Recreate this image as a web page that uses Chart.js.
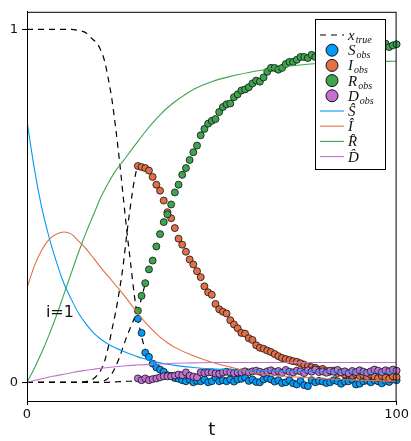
<!DOCTYPE html>
<html>
<head>
<meta charset="utf-8">
<script src="https://cdn.jsdelivr.net/npm/chart.js@4"></script>
<style>
body { margin: 0; background: #fff; }
</style>
</head>
<body>
<canvas id="myChart" width="411" height="441"></canvas>
<script>
// truth before observations start (dashed black)
const tTrue = [0, 4, 8, 12, 14, 16, 17, 18, 19, 20, 21, 22, 23, 24, 25, 26, 27, 28, 29, 30, 31, 32];
const sTrue = [1, 1, 1, 1, 0.997, 0.99, 0.98, 0.97, 0.96, 0.94, 0.91, 0.86, 0.8, 0.72, 0.63, 0.53, 0.43, 0.34, 0.25, 0.18, 0.13, 0.09];
const iTrue = [0, 0, 0, 0, 0, 0.002, 0.005, 0.01, 0.02, 0.035, 0.06, 0.1, 0.15, 0.2, 0.26, 0.33, 0.42, 0.5, 0.57, 0.61, 0.612, 0.608];
const rTrue = [0, 0, 0, 0, 0, 0, 0, 0, 0, 0.002, 0.005, 0.012, 0.025, 0.045, 0.07, 0.1, 0.13, 0.155, 0.18, 0.2, 0.24, 0.28];
const dTrue = [0, 0, 0, 0, 0, 0, 0, 0, 0, 0, 0, 0, 0.001, 0.001, 0.002, 0.002, 0.003, 0.003, 0.004, 0.005, 0.006, 0.008];

// observations t = 30..100
const tObs = [30,31,32,33,34,35,36,37,38,39,40,41,42,43,44,45,46,47,48,49,50,51,52,53,54,55,56,57,58,59,60,61,62,63,64,65,66,67,68,69,70,71,72,73,74,75,76,77,78,79,80,81,82,83,84,85,86,87,88,89,90,91,92,93,94,95,96,97,98,99,100];
const sObs = [0.18,0.14,0.084,0.072,0.053,0.042,0.036,0.03,0.02,0.018,0.012,0.01,0.006,0.003,0.008,0,0.004,0.003,0.008,0,0.003,0.014,0.003,0.006,0.003,0.008,0.002,0.008,0.01,0.014,0.004,0.008,0.001,0,0.008,0.012,0.008,0.002,0.006,-0.002,0,0.006,-0.003,-0.006,0.004,-0.008,-0.011,0.006,0,0.004,0.002,-0.002,0,0.006,0.003,-0.004,0.002,0.003,0.008,-0.006,-0.004,0.003,0.005,0,0.006,0.003,-0.003,0.004,0.001,0.008,0.006];
const iObs = [0.613,0.61,0.607,0.6,0.582,0.56,0.543,0.515,0.482,0.465,0.437,0.407,0.39,0.37,0.348,0.334,0.315,0.298,0.272,0.255,0.248,0.222,0.207,0.2,0.195,0.176,0.164,0.153,0.14,0.138,0.125,0.12,0.105,0.098,0.095,0.09,0.086,0.08,0.074,0.069,0.066,0.063,0.06,0.058,0.054,0.05,0.046,0.043,0.041,0.036,0.038,0.032,0.03,0.033,0.026,0.028,0.022,0.025,0.019,0.023,0.018,0.02,0.015,0.022,0.016,0.012,0.018,0.014,0.01,0.017,0.015];
const rObs = [0.203,0.245,0.281,0.32,0.345,0.385,0.42,0.454,0.476,0.504,0.538,0.56,0.588,0.607,0.63,0.652,0.671,0.7,0.718,0.733,0.741,0.746,0.766,0.78,0.788,0.79,0.808,0.816,0.827,0.83,0.836,0.847,0.855,0.852,0.864,0.88,0.891,0.891,0.886,0.891,0.902,0.908,0.908,0.914,0.922,0.922,0.919,0.928,0.922,0.925,0.93,0.933,0.928,0.936,0.94,0.935,0.942,0.945,0.94,0.947,0.95,0.944,0.952,0.955,0.948,0.957,0.965,0.96,0.95,0.955,0.958];
const dObs = [0.011,0.006,0.011,0.006,0.009,0.011,0.014,0.017,0.017,0.017,0.019,0.022,0.02,0.028,0.019,0.016,0.014,0.028,0.026,0.028,0.028,0.025,0.024,0.028,0.03,0.028,0.026,0.028,0.028,0.031,0.028,0.031,0.033,0.03,0.026,0.031,0.034,0.029,0.032,0.027,0.035,0.03,0.028,0.033,0.031,0.026,0.034,0.03,0.036,0.029,0.031,0.027,0.033,0.03,0.035,0.028,0.031,0.026,0.032,0.029,0.034,0.03,0.027,0.031,0.036,0.033,0.029,0.034,0.031,0.036,0.033];

// fitted curves (solid)
const tFit = [0,2,4,6,8,10,12,14,16,18,20,22,24,26,28,30,32,34,36,38,40,45,50,55,60,65,70,80,90,100];
const sHat = [0.74,0.605,0.495,0.41,0.34,0.28,0.235,0.195,0.165,0.14,0.122,0.108,0.097,0.088,0.08,0.072,0.066,0.06,0.055,0.051,0.048,0.042,0.038,0.035,0.033,0.032,0.031,0.03,0.029,0.028];
const iHat = [0.267,0.33,0.375,0.405,0.42,0.426,0.42,0.4,0.378,0.352,0.325,0.3,0.275,0.25,0.223,0.195,0.17,0.148,0.128,0.112,0.099,0.075,0.057,0.043,0.03,0.022,0.017,0.01,0.006,0.003];
const rHat = [0,0.04,0.085,0.135,0.19,0.25,0.31,0.37,0.425,0.475,0.525,0.565,0.6,0.627,0.655,0.683,0.71,0.735,0.758,0.778,0.795,0.83,0.852,0.867,0.878,0.887,0.895,0.905,0.908,0.91];
const dHat = [0,0.005,0.01,0.015,0.019,0.023,0.027,0.031,0.034,0.037,0.04,0.042,0.044,0.046,0.048,0.049,0.05,0.051,0.052,0.053,0.054,0.055,0.056,0.056,0.056,0.056,0.056,0.056,0.056,0.056];

const colors = ["#009AFA", "#E36F47", "#3EA44E", "#C271D2"];

const pts = (ts, vs) => ts.map((t, i) => ({x: t, y: vs[i]}));

const trueLine = (vs) => ({
  data: pts(tTrue, vs), showLine: true, borderColor: "#000", borderWidth: 1.2,
  borderDash: [6, 5], pointRadius: 0, cubicInterpolationMode: "monotone", order: 3,
});
const obsDots = (vs, c, ord) => ({
  data: pts(tObs, vs), backgroundColor: c, borderColor: "#111", borderWidth: 0.8,
  pointRadius: 3.5, showLine: false, order: ord, clip: false,
});
const hatLine = (vs, c, ord) => ({
  data: pts(tFit, vs), showLine: true, borderColor: c, borderWidth: 1.1,
  pointRadius: 0, cubicInterpolationMode: "monotone", order: ord,
});

const legendItems = [
  {kind: "dash", main: "x", sub: "true"},
  {kind: "dot", color: colors[0], main: "S", sub: "obs"},
  {kind: "dot", color: colors[1], main: "I", sub: "obs"},
  {kind: "dot", color: colors[2], main: "R", sub: "obs"},
  {kind: "dot", color: colors[3], main: "D", sub: "obs"},
  {kind: "line", color: colors[0], main: "S\u0302"},
  {kind: "line", color: colors[1], main: "I\u0302"},
  {kind: "line", color: colors[2], main: "R\u0302"},
  {kind: "line", color: colors[3], main: "D\u0302"},
];

const extras = {
  id: "extras",
  afterDatasetsDraw(chart) {
    const ctx = chart.ctx;
    const a = chart.chartArea;
    const xs = chart.scales.x, ys = chart.scales.y;
    ctx.save();
    // box frame
    ctx.strokeStyle = "#000";
    ctx.lineWidth = 1;
    ctx.strokeRect(a.left + 0.5, a.top + 0.5, a.right - a.left - 1, a.bottom - a.top);
    // annotation
    ctx.fillStyle = "#111";
    ctx.font = "16px 'DejaVu Sans'";
    ctx.textAlign = "center";
    ctx.textBaseline = "middle";
    ctx.fillText("i=1", xs.getPixelForValue(8.9), ys.getPixelForValue(0.198));
    ctx.restore();
  },
  afterDraw(chart) {
    const ctx = chart.ctx;
    const bx = 315, by = 19, bw = 70, bh = 150;
    ctx.save();
    ctx.fillStyle = "#fff";
    ctx.fillRect(bx, by, bw, bh);
    ctx.strokeStyle = "#000";
    ctx.lineWidth = 1;
    ctx.strokeRect(bx + 0.5, by + 0.5, bw, bh);
    legendItems.forEach((e, i) => {
      const y = 35 + i * 15.2;
      if (e.kind === "dot") {
        ctx.beginPath();
        ctx.arc(332, y, 6, 0, Math.PI * 2);
        ctx.fillStyle = e.color;
        ctx.fill();
        ctx.strokeStyle = "#111";
        ctx.stroke();
      } else {
        ctx.beginPath();
        ctx.moveTo(320, y);
        ctx.lineTo(344, y);
        ctx.strokeStyle = e.kind === "dash" ? "#000" : e.color;
        ctx.lineWidth = e.kind === "dash" ? 1.2 : 1.1;
        ctx.setLineDash(e.kind === "dash" ? [6, 5] : []);
        ctx.stroke();
        ctx.setLineDash([]);
        ctx.lineWidth = 1;
      }
      ctx.fillStyle = "#111";
      ctx.textAlign = "left";
      ctx.textBaseline = "alphabetic";
      ctx.font = "italic 15px 'Liberation Serif'";
      ctx.fillText(e.main, 348, y + 5);
      if (e.sub) {
        const w = ctx.measureText(e.main).width;
        ctx.font = "italic 10px 'Liberation Serif'";
        ctx.fillText(e.sub, 348 + w + 1, y + 8);
      }
    });
    ctx.restore();
  },
};

const config = {
  type: "scatter",
  data: {
    datasets: [
      trueLine(sTrue), trueLine(iTrue), trueLine(rTrue), trueLine(dTrue),
      obsDots(sObs, colors[0], 2.4), obsDots(iObs, colors[1], 2.3),
      obsDots(rObs, colors[2], 2.2), obsDots(dObs, colors[3], 2.1),
      hatLine(sHat, colors[0], 1.4), hatLine(iHat, colors[1], 1.3),
      hatLine(rHat, colors[2], 1.2), hatLine(dHat, colors[3], 1.1),
    ],
  },
  options: {
    responsive: false,
    animation: false,
    devicePixelRatio: 1,
    layout: {padding: {top: 6, right: 12, left: 0, bottom: 0}},
    plugins: {legend: {display: false}, tooltip: {enabled: false}},
    scales: {
      x: {
        type: "linear", min: 0, max: 100,
        afterBuildTicks: (s) => { s.ticks = [{value: 0}, {value: 100}]; },
        afterFit: (s) => { s.height = 40; },
        ticks: {color: "#111", font: {family: "DejaVu Sans", size: 13}, padding: 2, maxRotation: 0},
        grid: {drawOnChartArea: false, drawTicks: true, tickLength: 4, color: "#000"},
        border: {color: "#000", width: 1},
        title: {display: true, text: "t", color: "#111", font: {family: "DejaVu Sans", size: 18}, padding: {top: 0, bottom: 0}},
      },
      y: {
        type: "linear", min: -0.053, max: 1.05,
        afterBuildTicks: (s) => { s.ticks = [{value: 0}, {value: 1}]; },
        afterFit: (s) => { s.width = 27; },
        ticks: {color: "#111", font: {family: "DejaVu Sans", size: 13}, padding: 4},
        grid: {drawOnChartArea: false, drawTicks: true, tickLength: 5, color: "#000"},
        border: {color: "#000", width: 1},
      },
    },
  },
  plugins: [extras],
};

var myChart = new Chart(document.getElementById("myChart"), config);
</script>
</body>
</html>
